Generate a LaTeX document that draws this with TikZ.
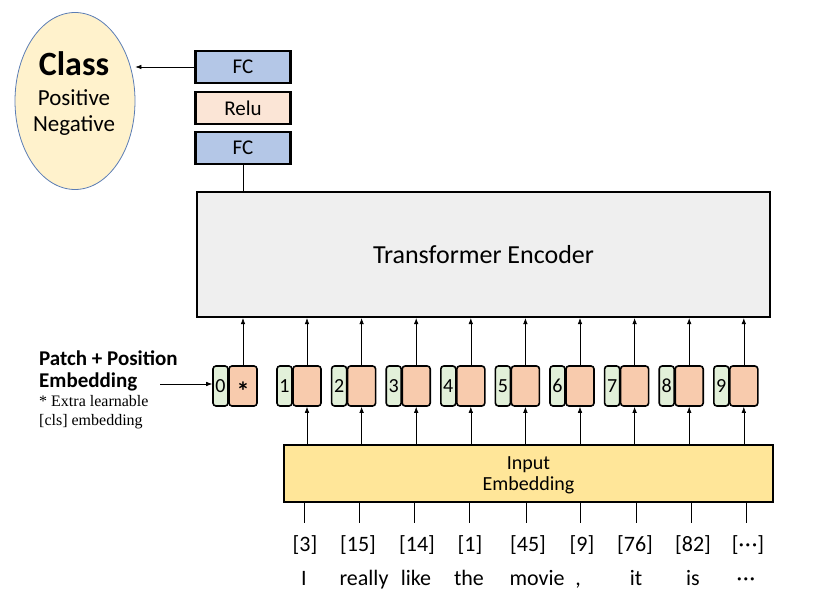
\documentclass[tikz,border=0pt]{standalone}
\usepackage{fontspec}
\setmainfont{Carlito}
\newfontfamily\seriffont{Liberation Serif}
\usetikzlibrary{arrows.meta,shapes.geometric}
\definecolor{fcblue}{HTML}{B4C7E7}
\definecolor{relupink}{HTML}{FBE5D6}
\definecolor{clsyellow}{HTML}{FFF2CC}
\definecolor{ellborder}{HTML}{5B7DB5}
\definecolor{encgray}{HTML}{EFEFEF}
\definecolor{tokgreen}{HTML}{E2F0D9}
\definecolor{tokorange}{HTML}{F8CBAD}
\definecolor{embyellow}{HTML}{FFE699}
\newcommand{\mydots}{\textperiodcentered\kern1pt\textperiodcentered\kern1pt\textperiodcentered}
\tikzset{
  layerbox/.style={draw=black, line width=2.2pt, minimum width=95pt, minimum height=32pt, inner sep=0pt, font=\fontsize{21}{22}\selectfont},
  greenbox/.style={draw=black, line width=1.6pt, rounded corners=3pt, fill=tokgreen, minimum width=15pt, minimum height=40pt, inner sep=0pt, font=\fontsize{20}{20}\selectfont},
  orangebox/.style={draw=black, line width=1.6pt, rounded corners=3pt, fill=tokorange, minimum width=28pt, minimum height=40pt, inner sep=0pt},
  arr/.style={-{Latex[length=6pt,width=4.5pt]}, line width=0.6pt},
  thin/.style={line width=0.6pt},
  numlabel/.style={font=\fontsize{22}{24}\selectfont, inner sep=0pt, anchor=base},
  wordlabel/.style={font=\fontsize{22}{24}\selectfont, inner sep=0pt, anchor=base},
  clstext/.style={font=\fontsize{23}{24}\selectfont, inner sep=0pt, anchor=base}
}
\begin{document}
\begin{tikzpicture}[x=1pt,y=-1pt]
\useasboundingbox (0,0) rectangle (838,604);
% class ellipse
\node[ellipse, draw=ellborder, line width=0.8pt, fill=clsyellow, minimum width=120pt, minimum height=177pt, inner sep=0pt] (cls) at (75,101) {};
\node[clstext, font=\fontsize{34}{36}\selectfont\bfseries] (clst) at (74,76) {Class};
\node[clstext] (pos) at (74,106) {Positive};
\node[clstext] (neg) at (74,132) {Negative};
% head
\node[layerbox, fill=fcblue] (fc1) at (243,67) {FC};
\node[layerbox, fill=relupink] (relu) at (243,108) {Relu};
\node[layerbox, fill=fcblue] (fc2) at (243,148) {FC};
\draw[arr] (fc1.west) -- (cls.east |- fc1.west);
% encoder
\node[draw=black, line width=2.2pt, fill=encgray, minimum width=573pt, minimum height=125pt, inner sep=0pt] (enc) at (483.5,254.5) {};
\node[font=\fontsize{26}{28}\selectfont, inner sep=0pt, anchor=base] (enct) at (483.5,263) {Transformer Encoder};
\draw[thin] (fc2.south) -- (fc2.south |- enc.north);
% input embedding
\node[draw=black, line width=2.2pt, fill=embyellow, minimum width=489pt, minimum height=57pt, inner sep=0pt] (emb) at (528.5,473.5) {};
\node[font=\fontsize{20}{21}\selectfont, inner sep=0pt, anchor=base] (embt1) at (528.5,469) {Input};
\node[font=\fontsize{20}{21}\selectfont, inner sep=0pt, anchor=base] (embt2) at (528.5,490) {Embedding};
% token 0
\node[greenbox] (g0) at (220.5,386) {0};
\node[orangebox] (o0) at (243,386) {};
\node[font=\fontsize{26}{26}\selectfont\bfseries, inner sep=0pt] (ast) at (243,391) {*};
\draw[arr] (o0.north) -- (o0.north |- enc.south);
% tokens 1..9
\foreach \i in {1,...,9}{
  \pgfmathsetmacro{\gx}{284.5+54.6*(\i-1)}
  \pgfmathsetmacro{\ox}{\gx+22.5}
  \node[greenbox] (g\i) at (\gx,386) {\i};
  \node[orangebox] (o\i) at (\ox,386) {};
  \draw[arr] (o\i.north) -- (o\i.north |- enc.south);
  \draw[arr] (o\i.south |- emb.north) -- (o\i.south);
}
% left label
\node[font=\fontsize{21}{22}\selectfont\bfseries, anchor=base west, inner sep=0pt] (pp1) at (39,365) {Patch + Position};
\node[font=\fontsize{21}{22}\selectfont\bfseries, anchor=base west, inner sep=0pt] (pp2) at (39,387) {Embedding};
\node[font=\seriffont\fontsize{16}{18}\selectfont, anchor=base west, inner sep=0pt] (xl1) at (39,406) {* Extra learnable};
\node[font=\seriffont\fontsize{16}{18}\selectfont, anchor=base west, inner sep=0pt] (xl2) at (39,425) {[cls] embedding};
\coordinate (ppend) at (160,384);
\draw[arr] (ppend) -- (g0.west |- ppend);
% numbers and words
\foreach \nm/\lx/\wtxt/\wx in {a/304/I/304, b/359/really/364, c/414/like/416, d/469/the/469, e/526/movie/537, f/580/{,}/578, g/636/it/636, h/691/is/693, k/746/{\mydots}/746}{
  \coordinate (lt\nm) at (\lx,503);
  \coordinate (lb\nm) at (\lx,523);
  \draw[thin] (lt\nm) -- (lb\nm);
  \node[wordlabel] (w\nm) at (\wx,585) {\wtxt};
}
\node[numlabel] (na) at (305,551) {[3]};
\node[numlabel] (nb) at (358,551) {[15]};
\node[numlabel] (nc) at (417,551) {[14]};
\node[numlabel] (nd) at (470,551) {[1]};
\node[numlabel] (ne) at (528,551) {[45]};
\node[numlabel] (nf) at (582,551) {[9]};
\node[numlabel] (ng) at (635,551) {[76]};
\node[numlabel] (nh) at (693,551) {[82]};
\node[numlabel] (nk) at (748,551) {[\mydots]};
\end{tikzpicture}
\end{document}
